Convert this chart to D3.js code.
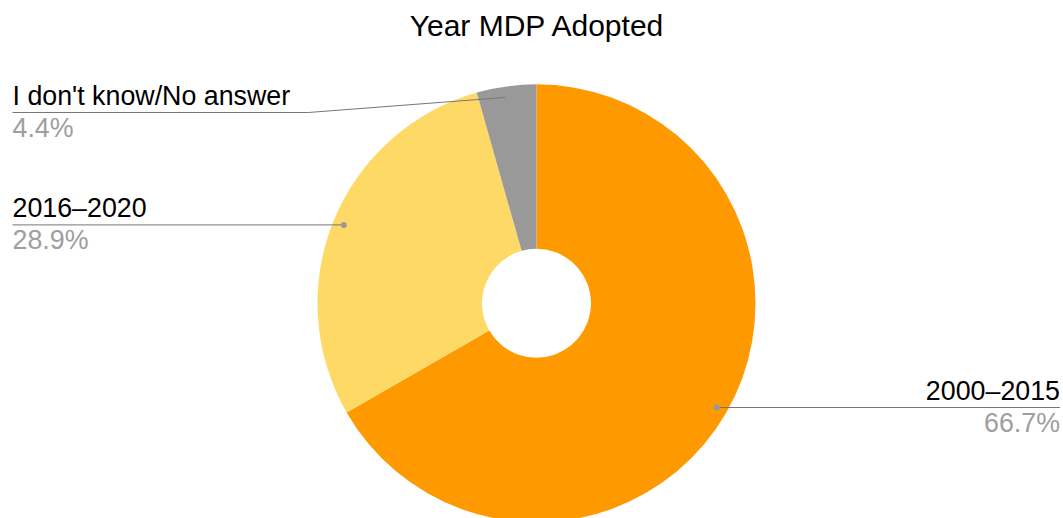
<!DOCTYPE html>
<html>
<head>
<meta charset="utf-8">
<script src="https://cdn.jsdelivr.net/npm/d3@7"></script>
<style>
  html, body { margin: 0; padding: 0; background: #fff; }
  svg { display: block; font-family: "Liberation Sans", Arial, sans-serif; }
</style>
</head>
<body>
<svg id="chart" width="1063" height="518"></svg>
<script>
// Share of respondents by year the MDP was adopted
const categories = ["2000–2015", "2016–2020", "I don't know/No answer"];
const shares = [66.7, 28.9, 4.4];
const colors = ["#ff9900", "#ffd966", "#999999"];
const title = "Year MDP Adopted";

const width = 1063, height = 518;
const cx = 536.5, cy = 303.3;
const outerR = 219, innerR = 54.5;
const dotR = outerR * 0.95;
const leftX = 12.5, rightX = 1060;
const minLabelY = 112.5;
const labelSize = 26.8;

const svg = d3.select("#chart");

svg.append("text")
  .attr("x", cx)
  .attr("y", 36)
  .attr("text-anchor", "middle")
  .attr("font-size", 30)
  .attr("fill", "#000")
  .text(title);

const data = categories.map((c, i) => ({ name: c, value: shares[i], color: colors[i] }));

const pie = d3.pie().value(d => d.value).sort(null);
const arcs = pie(data);
const arc = d3.arc().innerRadius(innerR).outerRadius(outerR);

const g = svg.append("g").attr("transform", `translate(${cx},${cy})`);

g.selectAll("path.slice")
  .data(arcs)
  .join("path")
  .attr("class", "slice")
  .attr("d", arc)
  .attr("fill", d => d.data.color);

// Leader lines and labels
const labelLayer = svg.append("g");

arcs.forEach(a => {
  const mid = (a.startAngle + a.endAngle) / 2;
  const px = cx + dotR * Math.sin(mid);
  const py = cy - dotR * Math.cos(mid);
  const onRight = px > cx;
  const ly = Math.max(py, minLabelY);

  const nameText = labelLayer.append("text")
    .attr("x", onRight ? rightX : leftX)
    .attr("y", ly - 8)
    .attr("text-anchor", onRight ? "end" : "start")
    .attr("font-size", labelSize)
    .attr("fill", "#000")
    .text(a.data.name);

  labelLayer.append("text")
    .attr("x", onRight ? rightX : leftX)
    .attr("y", ly + 24)
    .attr("text-anchor", onRight ? "end" : "start")
    .attr("font-size", labelSize)
    .attr("fill", "#9e9e9e")
    .text(d3.format(".1f")(a.data.value) + "%");

  let pts;
  if (onRight) {
    pts = [[px, py], [rightX, ly]];
  } else if (Math.abs(ly - py) < 1) {
    pts = [[leftX, ly], [px, py]];
  } else {
    const tw = nameText.node().getComputedTextLength();
    const elbowX = leftX + tw + 18;
    pts = [[leftX, ly], [elbowX, ly], [px, py]];
  }

  labelLayer.append("path")
    .attr("d", d3.line()(pts))
    .attr("fill", "none")
    .attr("stroke", "#777")
    .attr("stroke-width", 1);

  labelLayer.append("circle")
    .attr("cx", px)
    .attr("cy", py)
    .attr("r", 3)
    .attr("fill", "#999");
});
</script>
</body>
</html>
